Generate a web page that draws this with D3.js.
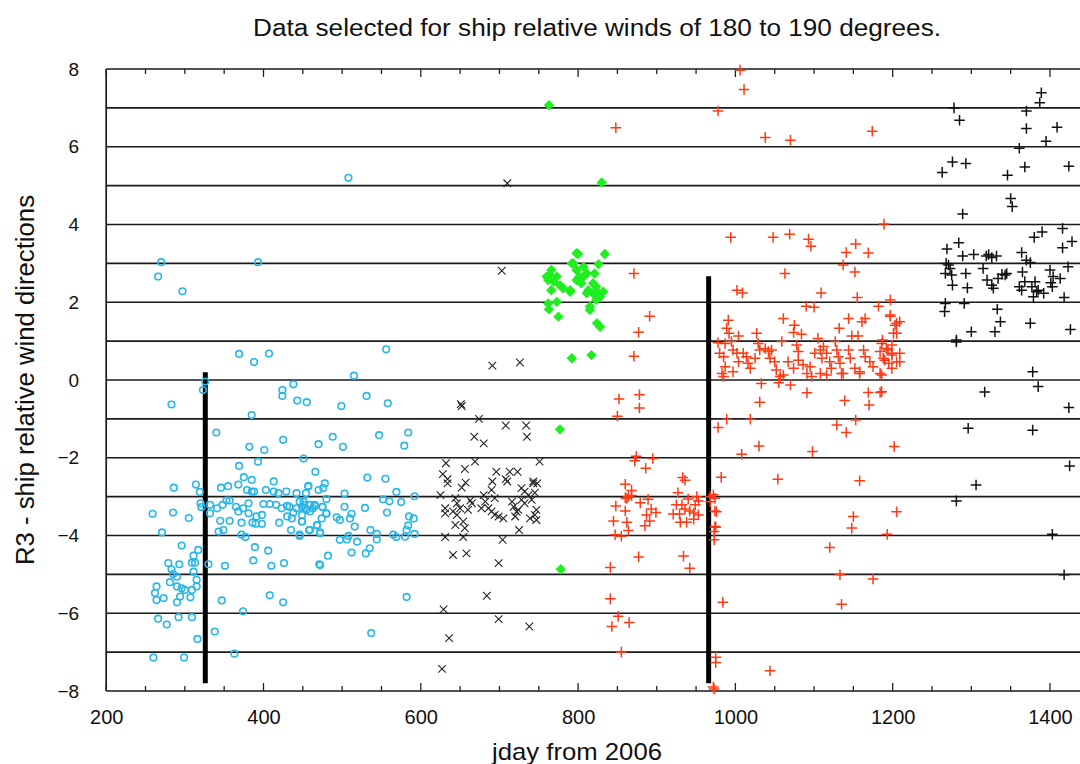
<!DOCTYPE html>
<html><head><meta charset="utf-8">
<script src="https://cdn.jsdelivr.net/npm/d3@7"></script>
<style>body{margin:0;background:#fff;} svg{display:block;} text{font-family:"Liberation Sans",Arial,sans-serif;}</style>
</head><body>
<script>
const title = "Data selected for ship relative winds of 180 to 190 degrees.";
const xLabel = "jday from 2006";
const yLabel = "R3 - ship relative wind directions";
const xTicks = [200,400,600,800,1000,1200,1400];
const yTicks = [-8,-6,-4,-2,0,2,4,6,8];
const gridValues = [-7,-6,-5,-4,-3,-2,-1,0,1,2,3,4,5,6,7];
const bars = [[326,-7.8,0.2],[966,-7.8,2.67]];

const cyanCircles = [
[270,3.03],[393,3.03],[266,2.66],[297,2.28],[369,0.67],[388,0.46],[407,0.68],[508,5.2],[556,0.79],[515,0.11],
[499,-0.67],[531,-0.41],[558,-0.6],[488,-1.46],[501,-1.72],[547,-1.42],[584,-1.35],[579,-1.69],
[532,-2.51],[555,-2.54],[569,-2.88],[592,-2.99],[457,-2.74],[476,-2.78],[480,-3.06],[503,-2.92],
[552,-3.07],[560,-3.12],[575,-3.14],[446,-3.13],[451,-3.21],[453,-3.3],[459,-3.21],[465,-3.21],[463,-3.3],
[475,-3.26],[459,-3.38],[449,-3.47],[449,-3.64],[455,-3.34],[503,-3.26],[529,-3.29],[557,-3.41],[512,-3.44],
[480,-3.44],[474,-3.56],[493,-3.53],[497,-3.6],[510,-3.56],[585,-3.51],[591,-3.56],[584,-3.74],[582,-3.86],
[516,-3.77],[468,-3.74],[458,-3.86],[472,-3.92],[536,-3.86],[544,-3.96],[544,-4.1],[508,-4.01],[506,-4.1],
[497,-4.11],[519,-4.16],[565,-3.98],[569,-4.04],[580,-4.03],[592,-3.96],[446,-3.98],[535,-4.33],[530,-4.46],
[512,-4.44],[482,-4.52],[472,-4.76],[582,-5.58],[537,-6.51],
[326,-0.04],[323,-0.26],[283,-0.63],[438,-0.11],[424,-0.26],[424,-0.41],[443,-0.53],[455,-0.57],[385,-0.9],
[340,-1.35],[425,-1.54],[470,-1.65],[382,-1.72],[401,-1.8],[393,-2.1],[451,-2.02],[369,-2.21],[466,-2.36],
[375,-2.5],[385,-2.57],[413,-2.61],[286,-2.77],[314,-2.69],[346,-2.77],[355,-2.73],[368,-2.69],[319,-2.88],
[379,-2.83],[385,-2.87],[388,-2.87],[403,-2.83],[413,-2.87],[419,-2.91],[429,-2.87],[442,-2.91],[454,-2.91],
[457,-2.72],[470,-2.83],[478,-2.66],
[320,-3.17],[321,-3.27],[332,-3.21],[332,-3.43],[341,-3.3],[348,-3.21],[353,-3.1],[357,-3.1],[365,-3.26],
[368,-3.38],[374,-3.3],[381,-3.43],[381,-3.17],[391,-3.51],[398,-3.47],[400,-3.19],[408,-3.19],[416,-3.21],
[423,-3.3],[430,-3.24],[433,-3.26],[438,-3.41],[442,-3.3],[449,-3.26],[451,-3.13],[459,-3.21],[465,-3.24],
[475,-3.26],[259,-3.44],[285,-3.41],[305,-3.55],[345,-3.62],[357,-3.62],[372,-3.67],[386,-3.67],[390,-3.7],
[398,-3.7],[420,-3.67],[430,-3.51],[436,-3.56],[449,-3.64],[468,-3.73],[480,-3.43],[343,-3.9],[349,-3.86],
[372,-3.98],[377,-4.04],[435,-3.86],[446,-4.01],[459,-3.86],[472,-3.94],[271,-3.92],[296,-4.26],[317,-4.37],
[311,-4.52],[309,-4.7],[313,-4.7],[279,-4.71],[293,-4.74],[330,-4.74],[351,-4.78],[283,-4.87],[389,-4.3],
[406,-4.39],[387,-4.64],[410,-4.78],[426,-4.71],[471,-4.74],[311,-4.93],[285,-4.99],[290,-5.06],[281,-5.2],
[264,-5.31],[290,-5.31],[296,-5.36],[300,-5.4],[309,-5.4],[315,-5.14],[315,-5.31],[262,-5.48],[264,-5.66],
[273,-5.61],[294,-5.57],[290,-5.72],[307,-5.59],[347,-5.67],[408,-5.54],[425,-5.72],[374,-5.95],[266,-6.14],
[277,-6.29],[292,-6.1],[309,-6.1],[338,-6.47],[316,-6.66],[260,-7.14],[299,-7.14],[363,-7.04]
];

const blackCrosses = [
[710,5.06],[703,2.81],[691,0.37],[726,0.45],[652,-0.67],[651,-0.62],[674,-1.0],[708,-1.17],[734,-1.17],
[735,-1.46],[668,-1.46],[680,-1.63],[632,-2.14],[656,-2.29],[669,-2.1],[751,-2.1],[628,-2.42],[634,-2.55],
[634,-2.66],[657,-2.64],[652,-2.77],[696,-2.36],[713,-2.36],[723,-2.36],[691,-2.61],[710,-2.61],[708,-2.55],
[743,-2.61],[748,-2.66],[625,-2.96],[644,-3.04],[646,-3.17],[663,-3.1],[665,-3.17],[660,-3.34],[680,-2.96],
[682,-3.13],[677,-3.3],[690,-2.83],[694,-3.04],[631,-3.3],[631,-3.43],[641,-3.38],[646,-3.47],[650,-3.3],
[686,-3.3],[690,-3.38],[694,-3.47],[699,-3.51],[705,-3.56],[716,-3.13],[718,-3.26],[722,-3.39],[720,-3.51],
[724,-3.34],[728,-2.78],[732,-2.87],[737,-2.96],[741,-3.08],[745,-2.9],[743,-2.66],[728,-3.08],[732,-3.17],
[747,-3.34],[745,-3.47],[739,-3.56],[747,-3.6],[644,-3.73],[654,-3.64],[656,-3.81],[631,-4.04],[654,-4.04],
[704,-4.11],[725,-3.86],[641,-4.5],[658,-4.46],[699,-4.71],[684,-5.55],[629,-5.9],[699,-6.15],[738,-6.34],
[636,-6.64],[627,-7.43]
];

const greenDiamonds = [
[763,7.07],[830,5.08],[800,3.24],[834,3.24],[792,3.0],[826,2.98],[798,3.26],[794,3.0],
[766,2.83],[760,2.66],[769,2.53],[777,2.44],[766,2.31],[773,2.01],[763,1.82],[775,1.63],
[764,2.7],[762,2.57],[773,2.66],[781,2.36],[790,2.27],[762,1.97],
[798,2.83],[802,2.66],[807,2.91],[811,2.74],[804,2.49],[800,2.59],[798,2.57],[790,2.31],
[821,2.74],[813,2.31],[819,2.23],[823,2.4],[828,2.14],[832,2.27],[823,2.06],[815,1.8],[828,1.37],
[811,2.23],[815,1.89],[819,2.49],[826,2.23],[824,1.46],[807,2.66],
[792,0.56],[817,0.64],[777,-1.27],[778,-4.87]
];

const redPluses = [
[848,6.49],[871,2.74],[891,1.64],[877,1.23],[871,0.61],[852,-0.49],[878,-0.38],[878,-0.72],[850,-0.93],
[874,-1.96],[872,-2.08],[895,-2.02],[886,-2.27],[860,-2.68],[868,-2.84],
[848,-3.24],[860,-3.03],[864,-3.0],[862,-3.05],[868,-2.97],[879,-3.16],[889,-3.07],[893,-3.32],[899,-3.41],
[887,-3.47],[891,-3.63],[885,-3.75],[845,-3.63],[847,-3.98],[855,-4.02],[862,-3.66],[864,-3.87],[860,-3.37],
[877,-4.55],[841,-4.82],[841,-5.63],[851,-6.08],[865,-6.24],[843,-6.34],[855,-7.0],
[933,-2.51],[936,-2.58],[927,-2.9],[940,-3.06],[951,-3.0],[953,-3.11],[925,-3.21],[921,-3.45],[929,-3.45],
[932,-3.21],[936,-3.32],[942,-3.37],[947,-3.42],[949,-3.21],[947,-3.58],[953,-3.47],[930,-3.66],[938,-3.66],
[934,-4.53],[942,-4.84],[972,-2.95],[974,-3.37],[975,-3.79],[973,-3.9],[975,-7.27],[973,-7.95],
[1006,7.97],[1011,7.47],[978,6.92],[1038,6.24],[1070,6.17],[1174,6.4],[1189,4.01],[994,3.67],[1048,3.67],
[1069,3.75],[1093,3.62],[1096,3.44],[1141,3.28],[1153,3.5],[1169,3.27],[1137,2.96],[1152,2.78],[1063,2.74],
[1002,2.31],[1009,2.24],[1109,2.24],[1155,2.12],[1197,2.06],[1182,1.9],[1090,1.9],[1100,1.87],
[1061,1.58],[1075,1.41],[1074,1.22],[1084,1.18],[1144,1.58],[1161,1.5],[1165,1.58],[1132,1.33],[1197,1.64],
[1203,1.41],[991,1.54],[989,1.33],[992,1.2],[1004,1.13],[1027,1.2],[1148,1.13],[1156,1.13],[1201,1.2],
[978,0.96],[987,0.94],[995,0.99],[980,0.69],[985,0.6],[987,0.34],[983,0.17],[997,0.77],[1002,0.69],
[1004,0.47],[1010,0.69],[1014,0.6],[1016,0.43],[1019,0.3],[1025,0.56],[1029,0.94],[1031,0.77],[1038,0.81],
[1042,0.73],[1046,0.77],[1044,0.56],[1050,0.47],[1052,0.26],[1059,0.99],[1061,0.13],[1067,0.47],[1074,0.3],
[1078,0.9],[1080,0.73],[1080,0.51],[1086,0.39],[1091,0.17],[1095,0.34],[1101,0.69],[1105,1.07],[1108,0.77],
[1110,0.56],[1112,0.86],[1116,0.69],[1120,0.47],[1122,0.3],[1127,0.99],[1129,0.77],[1131,0.6],[1133,0.43],
[1137,0.17],[1144,0.77],[1146,0.56],[1152,0.3],[1158,0.21],[1163,0.77],[1165,0.6],[1171,0.47],[1175,0.34],
[1184,0.73],[1187,1.03],[1190,0.51],[1194,0.77],[1199,0.64],[1205,0.47],[1199,0.9],[1184,0.17],
[985,0.09],[997,0.21],[1033,-0.09],[1055,-0.07],[1057,0.09],[1070,-0.13],[1091,-0.33],[1097,0.09],
[1108,0.17],[1116,0.13],[1135,0.17],[1158,0.17],[1186,0.13],[1139,-0.53],[1169,-0.32],[1184,-0.32],
[1170,-0.64],[1031,-0.57],[989,-1.01],[1019,-1.01],[978,-1.22],[1129,-1.16],[1153,-1.03],[1141,-1.35],
[1030,-1.7],[1008,-1.91],[1098,-1.84],[1202,-1.71],[982,-2.5],[1054,-2.55],[1158,-2.59],
[968,-3.0],[968,-3.13],[974,-3.04],[976,-3.39],[974,-3.77],[973,-4.11],[1150,-3.51],[1148,-3.81],
[1205,-3.39],[1193,-3.97],[1120,-4.31],[1133,-5.01],[1175,-5.12],[984,-5.72],[1135,-5.77],[975,-7.13],
[1044,-7.48],[972,-7.9],
[1197,1.67],[1205,1.46],[1209,1.5],[1205,1.2],[1186,0.94],[1192,0.81],[1199,0.69],[1209,0.69],[1188,0.56],
[1195,0.43],[1209,0.47],[1199,0.3],[1186,-0.3]
];

const blackPluses = [
[1389,7.39],[1387,7.13],[1370,6.92],[1278,7.0],[1285,6.68],[1370,6.47],[1409,6.5],[1395,6.14],[1361,5.96],
[1276,5.61],[1293,5.57],[1263,5.34],[1368,5.48],[1346,5.27],[1424,5.5],[1350,4.67],[1352,4.46],[1289,4.27],
[1416,3.9],[1390,3.81],[1380,3.67],[1428,3.56],[1416,3.4],[1284,3.53],[1269,3.37],
[1289,3.19],[1303,3.23],[1319,3.19],[1322,3.23],[1332,3.19],[1326,3.15],[1364,3.28],[1370,3.08],[1375,3.02],
[1268,3.0],[1271,2.96],[1273,2.87],[1267,2.74],[1275,2.7],[1276,2.44],[1293,2.74],[1295,2.37],[1315,2.87],
[1320,2.57],[1326,2.44],[1328,2.36],[1334,2.61],[1339,2.72],[1343,2.7],[1345,2.74],[1365,2.78],[1368,2.53],
[1361,2.4],[1364,2.31],[1377,2.4],[1381,2.53],[1383,2.27],[1379,2.14],[1385,2.31],[1392,2.23],[1400,2.83],
[1404,2.66],[1413,2.61],[1403,2.4],[1401,2.5],[1423,2.91],[1418,2.12],[1267,1.97],[1266,1.76],[1291,1.97],
[1333,1.82],[1337,1.5],[1330,1.24],[1300,1.24],[1281,1.03],[1281,0.98],[1375,1.46],[1426,1.3],[1378,0.21],
[1385,-0.17],[1317,-0.31],[1424,-0.71],[1296,-1.24],[1378,-1.29],[1425,-2.21],[1306,-2.7],[1281,-3.11],
[1403,-3.97],[1418,-5.01]
];

const W = 1080, H = 764;
const FONT = '"Liberation Sans",Arial,sans-serif';
const svg = d3.select("body").append("svg").attr("width", W).attr("height", H);
const x = d3.scaleLinear().domain([200, 1450]).range([106.2, 1089.3]);
const y = d3.scaleLinear().domain([-8, 8]).range([691, 69]);

// gridlines
svg.append("g").selectAll("line").data(gridValues).join("line")
  .attr("x1", x(200)).attr("x2", W).attr("y1", d => y(d)).attr("y2", d => y(d))
  .attr("stroke", "#1a1a1a").attr("stroke-width", 1.7);

// frame
svg.append("line").attr("x1", x(200)).attr("x2", W).attr("y1", y(8)).attr("y2", y(8)).attr("stroke", "#1a1a1a").attr("stroke-width", 1.7);
svg.append("line").attr("x1", x(200)).attr("x2", W).attr("y1", y(-8)).attr("y2", y(-8)).attr("stroke", "#1a1a1a").attr("stroke-width", 1.7);
svg.append("line").attr("x1", x(200)).attr("x2", x(200)).attr("y1", y(8)).attr("y2", y(-8)).attr("stroke", "#1a1a1a").attr("stroke-width", 1.7);

// x ticks (bottom and top, inward)
const minor = d3.range(200, 1451, 50);
const tg = svg.append("g");
tg.selectAll("line.b").data(minor).join("line").attr("class","b")
  .attr("x1", d => x(d)).attr("x2", d => x(d)).attr("y1", y(-8)).attr("y2", d => y(-8) - (d % 200 === 0 ? 8 : 5))
  .attr("stroke", "#222").attr("stroke-width", 1.3);
tg.selectAll("line.t").data(minor).join("line").attr("class","t")
  .attr("x1", d => x(d)).attr("x2", d => x(d)).attr("y1", y(8)).attr("y2", d => y(8) + (d % 200 === 0 ? 8 : 5))
  .attr("stroke", "#222").attr("stroke-width", 1.3);

const xa = svg.append("g").attr("transform", `translate(0,${y(-8)})`)
  .call(d3.axisBottom(x).tickValues(xTicks).tickSize(0).tickPadding(19).tickFormat(d3.format("d")));
xa.select(".domain").remove();
xa.selectAll("text").attr("font-size", 20).attr("fill", "#111").attr("font-family", FONT);

const ya = svg.append("g").attr("transform", `translate(${x(200)},0)`)
  .call(d3.axisLeft(y).tickValues(yTicks).tickSize(0).tickPadding(27).tickFormat(d3.format("d")));
ya.select(".domain").remove();
ya.selectAll("text").attr("font-size", 19).attr("fill", "#111").attr("font-family", FONT);

// thick bars
svg.append("g").selectAll("line").data(bars).join("line")
  .attr("x1", d => x(d[0])).attr("x2", d => x(d[0])).attr("y1", d => y(d[1])).attr("y2", d => y(d[2]))
  .attr("stroke", "#000").attr("stroke-width", 5);

// cyan circles
svg.append("g").selectAll("circle").data(cyanCircles).join("circle")
  .attr("cx", d => x(d[0])).attr("cy", d => y(d[1])).attr("r", 3.3)
  .attr("fill", "none").attr("stroke", "#27b6ea").attr("stroke-width", 1.6);

// black crosses
const cs = 3.8;
svg.append("g").selectAll("path").data(blackCrosses).join("path")
  .attr("d", d => { const cx = x(d[0]), cy = y(d[1]);
    return `M${cx-cs},${cy-cs}L${cx+cs},${cy+cs}M${cx-cs},${cy+cs}L${cx+cs},${cy-cs}`; })
  .attr("stroke", "#222").attr("stroke-width", 1.1).attr("fill", "none");

// green diamonds
const ds = 5.2;
svg.append("g").selectAll("path").data(greenDiamonds).join("path")
  .attr("d", d => { const cx = x(d[0]), cy = y(d[1]);
    return `M${cx},${cy-ds}L${cx+ds},${cy}L${cx},${cy+ds}L${cx-ds},${cy}Z`; })
  .attr("fill", "#1fee1f").attr("stroke", "none");

// red pluses
const ps = 5.3;
svg.append("g").selectAll("path").data(redPluses).join("path")
  .attr("d", d => { const cx = x(d[0]), cy = y(d[1]);
    return `M${cx-ps},${cy}L${cx+ps},${cy}M${cx},${cy-ps}L${cx},${cy+ps}`; })
  .attr("stroke", "#ff3a14").attr("stroke-width", 1.5).attr("fill", "none");

// black pluses
svg.append("g").selectAll("path").data(blackPluses).join("path")
  .attr("d", d => { const cx = x(d[0]), cy = y(d[1]);
    return `M${cx-ps},${cy}L${cx+ps},${cy}M${cx},${cy-ps}L${cx},${cy+ps}`; })
  .attr("stroke", "#111").attr("stroke-width", 1.5).attr("fill", "none");

// titles
svg.append("text").attr("x", 597).attr("y", 36).attr("text-anchor", "middle")
  .attr("font-size", 23).attr("fill", "#111").attr("textLength", 688).attr("lengthAdjust", "spacingAndGlyphs").text(title);
svg.append("text").attr("x", 577).attr("y", 760).attr("text-anchor", "middle")
  .attr("font-size", 24).attr("fill", "#111").attr("textLength", 170).attr("lengthAdjust", "spacingAndGlyphs").text(xLabel);
svg.append("text").attr("transform", `translate(34,380) rotate(-90)`).attr("text-anchor", "middle")
  .attr("font-size", 25).attr("fill", "#111").attr("textLength", 370).attr("lengthAdjust", "spacingAndGlyphs").text(yLabel);
</script>
</body></html>
